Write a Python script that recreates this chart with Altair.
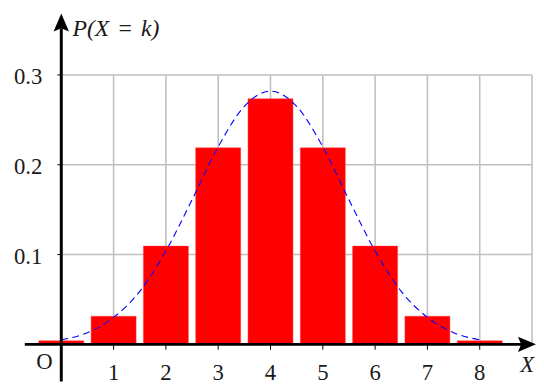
import altair as alt
import pandas as pd

# Data
ks = [0, 1, 2, 3, 4, 5, 6, 7, 8]
probs = [0.0039, 0.0313, 0.1094, 0.2188, 0.2734, 0.2188, 0.1094, 0.0313, 0.0039]
curve_x = [0, 0.5, 1, 1.5, 2, 2.5, 3, 3.5, 4, 4.5, 5, 5.5, 6, 6.5, 7, 7.5, 8]
curve_y = [0.005, 0.013, 0.030, 0.059, 0.104, 0.161, 0.220, 0.265, 0.282,
           0.265, 0.220, 0.161, 0.104, 0.059, 0.030, 0.013, 0.005]
x_tick_labels = ["1", "2", "3", "4", "5", "6", "7", "8"]
y_ticks = [0.1, 0.2, 0.3]
y_tick_labels = ["0.1", "0.2", "0.3"]
grid_x = [1, 2, 3, 4, 5, 6, 7, 8, 9]
y_title = "P(X\u2004=\u2004k)"

XMIN, XMAX = -0.698, 9.076
YMIN, YMAX = -0.0414, 0.3674
FONT = "Liberation Serif"
FS = 23
TXT = "#1a1a1a"

xs = alt.Scale(domain=[XMIN, XMAX], nice=False, zero=False)
ys = alt.Scale(domain=[YMIN, YMAX], nice=False, zero=False)

def X(f, **kw):
    return alt.X(f, type="quantitative", scale=xs, axis=None, **kw)

def Y(f, **kw):
    return alt.Y(f, type="quantitative", scale=ys, axis=None, **kw)

bars_df = pd.DataFrame({"k": ks, "p": probs})
bars_df["x0"] = bars_df["k"] - 0.43
bars_df["x1"] = bars_df["k"] + 0.43
bars_df["zero"] = 0.0

curve_df = pd.DataFrame({"x": curve_x, "y": curve_y})

vgrid_df = pd.DataFrame({"x": grid_x, "y0": [0.0] * len(grid_x), "y1": [0.3] * len(grid_x)})
hgrid_df = pd.DataFrame({"y": y_ticks, "x0": [0.0] * 3, "x1": [9.0] * 3})

vgrid = alt.Chart(vgrid_df).mark_rule(color="#c0c0c0", strokeWidth=1.6).encode(
    x=X("x"), y=Y("y0"), y2="y1")
hgrid = alt.Chart(hgrid_df).mark_rule(color="#c0c0c0", strokeWidth=1.6).encode(
    x=X("x0"), x2="x1", y=Y("y"))

bars = alt.Chart(bars_df).mark_bar(color="#ff0000", stroke="#ff4040", strokeWidth=0.5).encode(
    x=X("x0"), x2="x1", y=Y("zero"), y2="p")

curve = alt.Chart(curve_df).mark_line(
    color="#0000ff", strokeWidth=1.1, strokeDash=[7, 4.5], interpolate="monotone"
).encode(x=X("x"), y=Y("y"))

# axes
xaxis_df = pd.DataFrame({"x0": [XMIN], "x1": [8.95], "y": [0.0]})
yaxis_df = pd.DataFrame({"x": [0.0], "y0": [YMIN], "y1": [0.352]})
xaxis = alt.Chart(xaxis_df).mark_rule(color="black", strokeWidth=3).encode(
    x=X("x0"), x2="x1", y=Y("y"))
yaxis = alt.Chart(yaxis_df).mark_rule(color="black", strokeWidth=3).encode(
    x=X("x"), y=Y("y0"), y2="y1")

arrow_up = alt.Chart(pd.DataFrame({"x": [0.0], "y": [0.3575]})).mark_point(
    shape="M0,-1 L0.78,0.83 L0,0.5 L-0.78,0.83 Z", size=400, filled=True,
    color="black", opacity=1, strokeWidth=0
).encode(x=X("x"), y=Y("y"))
arrow_right = alt.Chart(pd.DataFrame({"x": [8.887], "y": [0.0]})).mark_point(
    shape="M1,0 L-0.83,0.78 L-0.5,0 L-0.83,-0.78 Z", size=400, filled=True,
    color="black", opacity=1, strokeWidth=0
).encode(x=X("x"), y=Y("y"))

# ticks
xt_df = pd.DataFrame({"x": ks[1:], "y0": [0.0] * 8, "y1": [-0.006] * 8, "lab": x_tick_labels,
                      "ly": [-0.0396] * 8})
xticks = alt.Chart(xt_df).mark_rule(color="black", strokeWidth=1).encode(
    x=X("x"), y=Y("y0"), y2="y1")
xlabels = alt.Chart(xt_df).mark_text(font=FONT, fontSize=FS, baseline="alphabetic",
                                     align="center", color=TXT).encode(
    x=X("x"), y=Y("ly"), text="lab:N")

yt_df = pd.DataFrame({"y": y_ticks, "x0": [-0.075] * 3, "x1": [0.0] * 3, "lab": y_tick_labels,
                      "lx": [-0.364] * 3})
yt_df["ly"] = yt_df["y"] - 0.0104
yticks = alt.Chart(yt_df).mark_rule(color="black", strokeWidth=1).encode(
    x=X("x0"), x2="x1", y=Y("y"))
ylabels = alt.Chart(yt_df).mark_text(font=FONT, fontSize=FS, baseline="alphabetic",
                                     align="right", color=TXT).encode(
    x=X("lx"), y=Y("ly"), text="lab:N")

origin = alt.Chart(pd.DataFrame({"x": [-0.32], "y": [-0.0271], "t": ["O"]})).mark_text(
    font=FONT, fontSize=FS, baseline="alphabetic", align="center", color=TXT).encode(
    x=X("x"), y=Y("y"), text="t:N")
xname = alt.Chart(pd.DataFrame({"x": [8.906], "y": [-0.0308], "t": ["X"]})).mark_text(
    font=FONT, fontSize=FS, fontStyle="italic", baseline="alphabetic", align="center",
    color=TXT).encode(x=X("x"), y=Y("y"), text="t:N")
yname = alt.Chart(pd.DataFrame({"x": [0.213], "y": [0.3429], "t": [y_title]})).mark_text(
    font=FONT, fontSize=24, fontStyle="italic", baseline="alphabetic", align="left",
    color=TXT).encode(x=X("x"), y=Y("y"), text="t:N")

chart = alt.layer(
    vgrid, hgrid, bars, curve, xaxis, yaxis, arrow_up, arrow_right,
    xticks, xlabels, yticks, ylabels, origin, xname, yname
).properties(
    width=518, height=372,
    autosize=alt.AutoSizeParams(type="none"),
    padding={"left": 17, "top": 4, "right": 0, "bottom": 0},
).configure_view(stroke=None)

chart.save("out.html", embed_options={"renderer": "svg", "actions": False})
